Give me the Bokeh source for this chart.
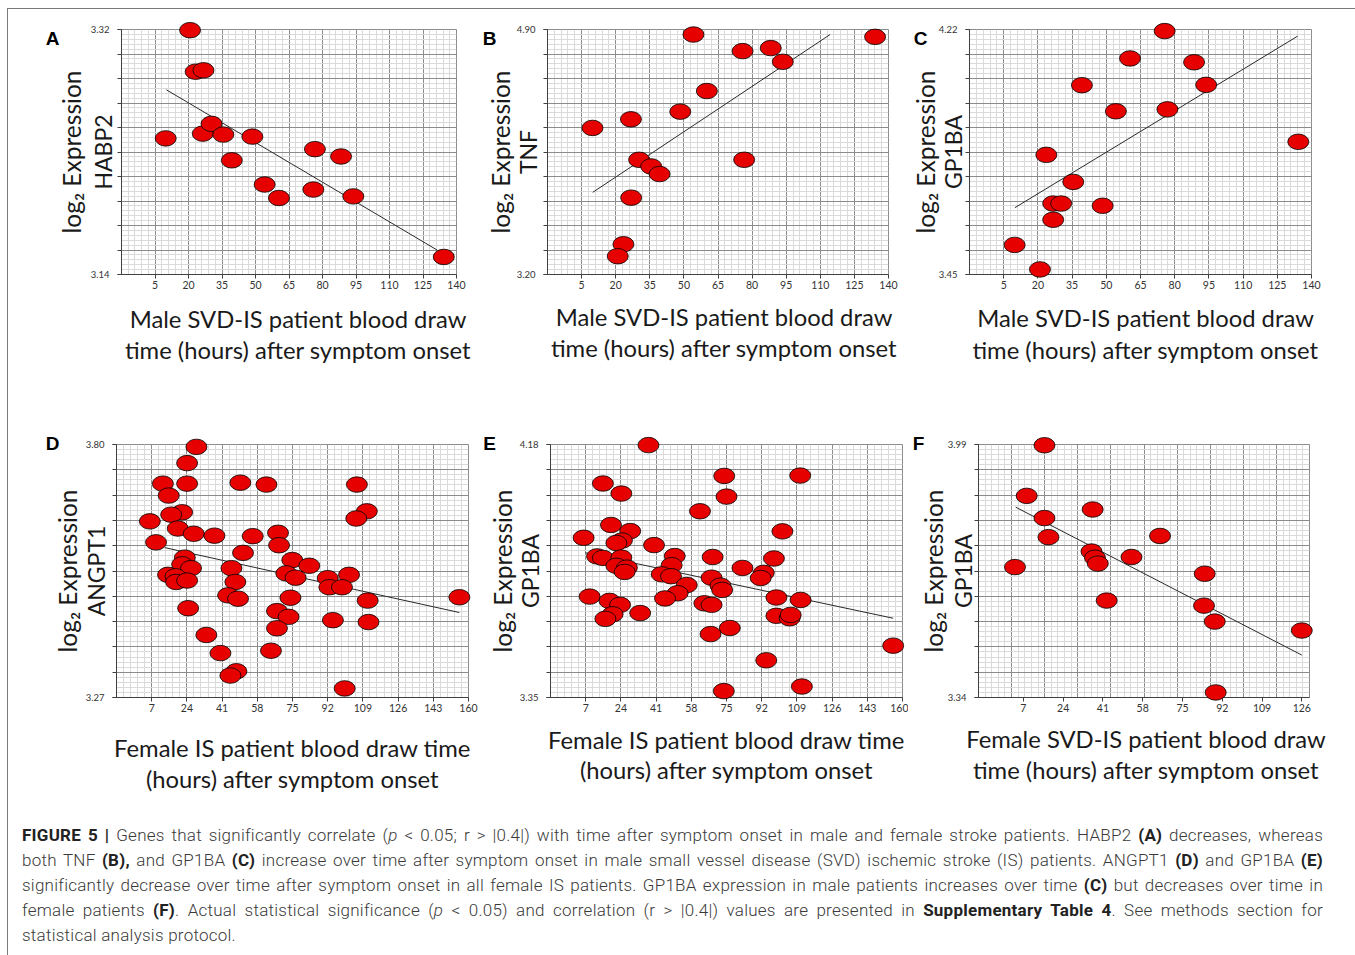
import numpy as np
from bokeh.plotting import figure
from bokeh.models import FixedTicker, Label, Div, Range1d, PrintfTickFormatter
from bokeh.layouts import row, column
from bokeh.embed import file_html
from bokeh.resources import INLINE

# ---------------- data ----------------
# Panel A: male SVD-IS, HABP2
a_hours = [20.7, 23.2, 26.7, 9.8, 26.4, 30.3, 35.6, 39.4, 48.6, 76.6, 88.3, 54.1, 60.5, 75.9, 93.8, 134.3]
a_expr = [3.3195, 3.289, 3.290, 3.240, 3.2435, 3.2507, 3.2428, 3.2239, 3.2413, 3.2321, 3.2267,
          3.2061, 3.1962, 3.2024, 3.1974, 3.1529]
a_trend_x = [10.1, 131.3]
a_trend_y = [3.2757, 3.158]

# Panel B: male SVD-IS, TNF
b_hours = [54.2, 134.1, 75.8, 88.2, 93.5, 60.1, 48.4, 26.7, 9.8, 30.3, 35.6, 39.3, 76.5, 26.8, 23.4, 20.9]
b_expr = [4.865, 4.849, 4.750, 4.771, 4.676, 4.473, 4.330, 4.277, 4.217, 3.996, 3.950, 3.897,
          3.996, 3.733, 3.410, 3.327]
b_trend_x = [9.9, 114.3]
b_trend_y = [3.770, 4.865]

# Panel C: male SVD-IS, GP1BA
c_hours = [75.6, 60.4, 88.5, 39.3, 93.8, 54.2, 76.8, 134.2, 23.7, 35.5, 26.7, 30.2, 48.4, 26.7, 9.8, 20.9]
c_expr = [4.215, 4.129, 4.117, 4.045, 4.046, 3.963, 3.969, 3.867, 3.826, 3.741, 3.673, 3.673,
          3.666, 3.622, 3.543, 3.466]
c_trend_x = [9.9, 133.9]
c_trend_y = [3.660, 4.199]

# Panel D: female IS, ANGPT1
d_hours = [28.6, 24.1, 12.4, 24.1, 49.8, 62.4, 106.1, 15.2, 21.7, 16.4, 110.9, 105.8, 6.1, 19.6,
           27.3, 37.3, 55.8, 68.0, 68.5, 9.1, 51.1, 23.0, 21.7, 26.0, 45.5, 74.9, 83.1, 72.0, 76.5,
           14.9, 18.5, 18.8, 24.1, 47.4, 92.0, 102.3, 92.8, 98.9, 43.9, 48.7, 74.0, 111.3, 155.6,
           24.6, 67.5, 73.1, 94.5, 111.7, 67.5, 33.4, 40.2, 64.6, 47.9, 45.0, 100.2]
d_expr = [3.795, 3.761, 3.718, 3.718, 3.720, 3.716, 3.716, 3.693, 3.658, 3.653, 3.660, 3.645,
          3.639, 3.624, 3.613, 3.609, 3.608, 3.615, 3.589, 3.595, 3.573, 3.563, 3.549, 3.541,
          3.541, 3.558, 3.546, 3.530, 3.521, 3.527, 3.524, 3.512, 3.515, 3.512, 3.520, 3.527,
          3.501, 3.501, 3.484, 3.477, 3.479, 3.473, 3.480, 3.457, 3.451, 3.439, 3.432, 3.428,
          3.415, 3.401, 3.363, 3.368, 3.325, 3.316, 3.289]
d_trend_x = [13.3, 155.6]
d_trend_y = [3.584, 3.448]

# Panel E: female IS, GP1BA
e_hours = [37.3, 73.9, 110.6, 15.3, 24.2, 75.0, 62.2, 19.2, 28.5, 6.0, 102.0, 24.5, 21.8, 40.0,
           12.5, 15.3, 24.2, 50.0, 68.3, 97.9, 48.5, 21.8, 26.9, 25.8, 82.7, 93.0, 91.5, 43.7,
           48.2, 67.8, 55.8, 72.1, 72.9, 8.9, 51.4, 45.3, 18.5, 23.6, 99.1, 110.8, 64.3, 67.8,
           33.3, 20.0, 16.5, 99.1, 105.5, 106.0, 76.6, 67.3, 155.5, 94.2, 111.4, 73.7]
e_expr = [4.178, 4.077, 4.078, 4.052, 4.019, 4.009, 3.961, 3.916, 3.896, 3.874, 3.895, 3.865,
          3.857, 3.850, 3.813, 3.808, 3.809, 3.814, 3.811, 3.806, 3.784, 3.782, 3.776, 3.762,
          3.775, 3.759, 3.742, 3.754, 3.748, 3.743, 3.719, 3.717, 3.703, 3.681, 3.692, 3.675,
          3.667, 3.654, 3.678, 3.670, 3.659, 3.654, 3.627, 3.623, 3.608, 3.618, 3.610, 3.621,
          3.578, 3.558, 3.520, 3.472, 3.386, 3.371]
e_trend_x = [6.8, 155.5]
e_trend_y = [3.825, 3.610]

# Panel F: female SVD-IS, GP1BA
f_hours = [16.0, 8.4, 36.6, 16.0, 17.7, 65.4, 36.1, 37.6, 38.8, 53.2, 3.4, 84.5, 42.6, 84.2,
           88.8, 126.0, 89.2]
f_expr = [3.988, 3.858, 3.823, 3.801, 3.752, 3.755, 3.715, 3.699, 3.684, 3.701, 3.675, 3.658,
          3.589, 3.576, 3.535, 3.512, 3.353]
f_trend_x = [3.7, 126.0]
f_trend_y = [3.829, 3.449]

# axis ranges / tick labels
male_x_ticks = [5, 20, 35, 50, 65, 80, 95, 110, 125, 140]
female_x_ticks = [7, 24, 41, 58, 75, 92, 109, 126, 143, 160]
svd_f_x_ticks = [7, 24, 41, 58, 75, 92, 109, 126]
a_yr = (3.14, 3.32)
b_yr = (3.20, 4.90)
c_yr = (3.45, 4.22)
d_yr = (3.27, 3.80)
e_yr = (3.35, 4.18)
f_yr = (3.34, 3.99)
male_xr = (-10, 140)
female_xr = (-10, 160)
svd_f_xr = (-12.2, 129.3)

x_title_male = ["Male SVD-IS patient blood draw", "time (hours) after symptom onset"]
x_title_fem = ["Female IS patient blood draw time", "(hours) after symptom onset"]
x_title_fsvd = ["Female SVD-IS patient blood draw", "time (hours) after symptom onset"]

TITLE_FONT = "Lato"
RED = "#e60000"
GRID_MAJOR = "#8c8c8c"
GRID_MINOR = "#dadada"


def subdivide(majors, n=5):
    out = []
    for a, b in zip(majors[:-1], majors[1:]):
        for k in range(1, n):
            out.append(a + (b - a) * k / n)
    return out


def panel(xs, ys, tx, ty, xr, yr, xticks, letter, gene, xtitle,
          w, h, bl, br, bt, bb, yoff, xoff, letoff, letter_side, even_grid=False):
    p = figure(width=w, height=h, x_range=Range1d(*xr), y_range=Range1d(*yr),
               output_backend="svg", toolbar_location=None,
               min_border_left=bl, min_border_right=br, min_border_top=bt, min_border_bottom=bb,
               background_fill_color="white", border_fill_color="white",
               outline_line_color=GRID_MAJOR)
    # grid
    if even_grid:
        gx = list(np.linspace(xr[0], xr[1], 11))
    else:
        gx = [xr[0]] + list(xticks)
    gy = list(np.linspace(yr[0], yr[1], 11))
    p.xgrid.ticker = FixedTicker(ticks=gx, minor_ticks=subdivide(gx))
    p.ygrid.ticker = FixedTicker(ticks=gy, minor_ticks=subdivide(gy))
    for g in (p.xgrid, p.ygrid):
        g.grid_line_color = GRID_MAJOR
        g.grid_line_width = 1
        g.minor_grid_line_color = GRID_MINOR
        g.minor_grid_line_width = 1
    # axes
    p.xaxis.ticker = FixedTicker(ticks=list(xticks), minor_ticks=[])
    p.yaxis.ticker = FixedTicker(ticks=[yr[0], yr[1]], minor_ticks=gy)
    p.yaxis.formatter = PrintfTickFormatter(format="%.2f")
    p.xaxis.formatter = PrintfTickFormatter(format="%d")
    for ax in (p.xaxis[0], p.yaxis[0]):
        ax.axis_line_color = "#404040"
        ax.major_tick_line_color = "#404040"
        ax.minor_tick_line_color = "#404040"
        ax.major_tick_in = 0
        ax.major_tick_out = 4
        ax.minor_tick_in = 0
        ax.minor_tick_out = 4
        ax.major_label_text_font = TITLE_FONT
        ax.major_label_text_color = "#333333"
    p.xaxis.major_label_text_font_size = "10.5px"
    p.yaxis.major_label_text_font_size = "9.5px"
    p.xaxis.major_label_standoff = 2
    p.yaxis.major_label_standoff = 8

    # trend line and points
    p.line(tx, ty, line_color="#2a2a2a", line_width=1)
    pts = p.ellipse(xs, ys, width=21, height=15.5, width_units="screen", height_units="screen",
                    fill_color=RED, line_color="black", line_width=0.8)
    pts.level = "overlay"   # points may spill over the frame edge, as in the original

    xmid = (xr[0] + xr[1]) / 2
    ymid = (yr[0] + yr[1]) / 2
    # gene name = y-axis label, pulled in over the (top/bottom only) tick labels
    yax = p.yaxis[0]
    yax.axis_label = gene
    yax.axis_label_text_font = TITLE_FONT
    yax.axis_label_text_font_size = "23px"
    yax.axis_label_text_font_style = "normal"
    yax.axis_label_text_color = "#1a1a1a"
    try:
        yax.axis_label_standoff = int(abs(yoff[1]) - 45)
    except Exception:
        yax.axis_label_standoff = 0
    # outer y title (rotated), placed in the left side panel so it is not clipped
    p.add_layout(Label(x=xr[0], y=ymid, x_offset=yoff[0], text="log\u2082 Expression",
                       angle=np.pi / 2, text_align="center", text_baseline="middle",
                       text_font=TITLE_FONT, text_font_size="24.5px", text_color="#1a1a1a"), "left")
    # x titles
    for line_txt, dy in zip(xtitle, xoff[1:]):
        p.add_layout(Label(x=xmid, y=yr[0], x_offset=xoff[0], y_offset=-dy, text=line_txt,
                           text_align="center", text_baseline="middle",
                           text_font=TITLE_FONT, text_font_size="23.8px", text_color="#1a1a1a"), "below")
    # panel letter
    p.add_layout(Label(x=xr[0], y=yr[1], x_offset=letoff[0], y_offset=-letoff[1], text=letter,
                       text_align="center", text_baseline="middle",
                       text_font="Liberation Sans", text_font_style="bold",
                       text_font_size="19px", text_color="black"), letter_side)
    return p


pa = panel(a_hours, a_expr, a_trend_x, a_trend_y, male_xr, a_yr, male_x_ticks, "A", "HABP2",
           x_title_male, 471, 391, 113, 23, 20, 126, (-50, -16), (9, 44, 75), (-69, 9), "left")
pb = panel(b_hours, b_expr, b_trend_x, b_trend_y, male_xr, b_yr, male_x_ticks, "B", "TNF",
           x_title_male, 425, 391, 68, 16, 20, 126, (-47, -17), (6, 42, 73), (-58, 9), "below")
pc = panel(c_hours, c_expr, c_trend_x, c_trend_y, male_xr, c_yr, male_x_ticks, "C", "GP1BA",
           x_title_male, 442, 391, 65, 35, 20, 126, (-44, -14), (5, 43, 75), (-49, 9), "below")
pd_ = panel(d_hours, d_expr, d_trend_x, d_trend_y, female_xr, d_yr, female_x_ticks, "D", "ANGPT1",
            x_title_fem, 471, 400, 108, 11, 44, 103, (-49, -18), (0, 50, 81), (-64, -1), "left")
pe = panel(e_hours, e_expr, e_trend_x, e_trend_y, female_xr, e_yr, female_x_ticks, "E", "GP1BA",
           x_title_fem, 429, 400, 71, 6, 44, 103, (-48, -18), (0, 42, 72), (-61, -1), "below")
pf = panel(f_hours, f_expr, f_trend_x, f_trend_y, svd_f_xr, f_yr, svd_f_x_ticks, "F", "GP1BA",
           x_title_fsvd, 438, 400, 70, 37, 44, 103, (-45, -13), (2, 41, 72), (-60, -1), "below",
           even_grid=True)

caption_lines = [
    "<b>FIGURE 5 |</b> Genes that significantly correlate (<i>p</i> &lt; 0.05; r &gt; |0.4|) with time after symptom onset in male and female stroke patients. HABP2 <b>(A)</b> decreases, whereas",
    "both TNF <b>(B),</b> and GP1BA <b>(C)</b> increase over time after symptom onset in male small vessel disease (SVD) ischemic stroke (IS) patients. ANGPT1 <b>(D)</b> and GP1BA <b>(E)</b>",
    "significantly decrease over time after symptom onset in all female IS patients. GP1BA expression in male patients increases over time <b>(C)</b> but decreases over time in",
    "female patients <b>(F)</b>. Actual statistical significance (<i>p</i> &lt; 0.05) and correlation (r &gt; |0.4|) values are presented in <b>Supplementary Table 4</b>. See methods section for",
    "statistical analysis protocol.",
]
html_lines = []
for i, ln in enumerate(caption_lines):
    ln = ln.replace("<b>", '<b style="font-weight:700;color:#222;">')
    align = "justify" if i < len(caption_lines) - 1 else "left"
    html_lines.append(f'<div style="text-align:left;text-align-last:{align};height:25px;line-height:25px;">{ln}</div>')
caption_html = ('<div style="padding:18px 0 0 9px;width:1310px;font-family:Roboto,sans-serif;'
                'font-weight:300;font-size:17px;letter-spacing:0.25px;color:#3a3a3a;">'
                + "".join(html_lines) + "</div>")
cap = Div(text=caption_html, width=1338, height=146)

layout = column(row(pa, pb, pc), row(pd_, pe, pf), cap,
                styles={"border-left": "1px solid #7a7a7a", "border-top": "1px solid #7a7a7a",
                        "margin-left": "7px", "margin-top": "8px"})

open("out.html", "w").write(file_html(layout, INLINE))
